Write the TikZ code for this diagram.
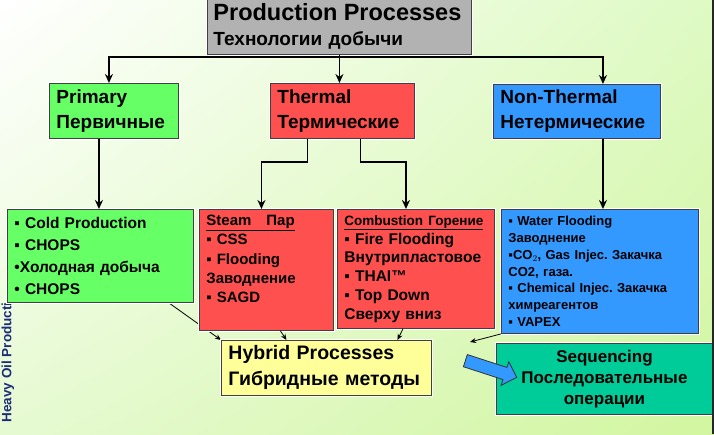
\documentclass[tikz,border=0pt]{standalone}
\usepackage{fontspec}
\setmainfont{Liberation Sans}
\usetikzlibrary{arrows.meta, positioning, shapes.arrows, backgrounds, shadings}
\definecolor{procgrey}{RGB}{178,178,178}
\definecolor{primgreen}{RGB}{102,255,102}
\definecolor{thermred}{RGB}{255,80,80}
\definecolor{nonthblue}{RGB}{51,153,255}
\definecolor{hybyellow}{RGB}{255,255,153}
\definecolor{seqteal}{RGB}{0,204,153}
\definecolor{bgtr}{RGB}{222,250,196}
\definecolor{bgbl}{RGB}{230,250,210}
\definecolor{bgbr}{RGB}{210,246,160}
\definecolor{sidenavy}{RGB}{30,45,120}
\newcommand{\fs}[2]{\fontsize{#1}{#2}\selectfont}
\frenchspacing

\begin{document}
\begin{tikzpicture}[>=Stealth, x=1pt, y=-1pt,
  box/.style={draw=black!75, line width=0.9pt, preaction={draw=white, line width=3.5pt},
    anchor=north west, inner xsep=7pt, inner ysep=2pt, align=left, font=\bfseries},
  flow/.style={-{Stealth[length=9pt, width=8pt]}, line width=1.6pt},
  feed/.style={-{Stealth[length=6pt, width=5pt]}, line width=0.8pt}]
  \begin{scope}[on background layer]
    \shade[upper left=white, upper right=bgtr, lower left=bgbl, lower right=bgbr] (0,0) rectangle (714,434);
  \end{scope}
  \useasboundingbox (0,0) rectangle (714,434);
  \begin{scope}
    \clip (0,302) rectangle (40,434);
    \node[rotate=90, anchor=west, text=sidenavy, font=\bfseries\fs{13.5}{16}] (heavy) at (8,426) {Heavy Oil Production};
  \end{scope}

  \node[box, fill=procgrey, inner xsep=6pt, text width=252, minimum height=56, font=\bfseries\fs{19}{25}] (proc) at (207,-2)
    {\mbox{\fs{23.5}{26}Production Processes}\\Технологии добычи};
  \node[box, fill=primgreen, text width=115, minimum height=55, font=\bfseries\fs{19}{25}] (primary) at (49,83)
    {Primary\\Первичные};
  \node[box, fill=thermred, text width=130, minimum height=55, font=\bfseries\fs{19}{25}] (thermal) at (270,83)
    {Thermal\\Термические};
  \node[box, fill=nonthblue, text width=153, minimum height=54, font=\bfseries\fs{19}{25}] (nonth) at (493,84)
    {Non-Thermal\\Нетермические};

  \node[box, fill=primgreen, text width=172, minimum height=93, font=\bfseries\fs{15.5}{21.7}] (cold) at (7,209)
    {▪ Cold Production\\▪ CHOPS\\•Холодная добыча\\• CHOPS};
  \node[box, fill=thermred, text width=120, minimum height=121, font=\bfseries\fs{15}{19.2}] (steam) at (199,209)
    {\underline{Steam\ \ \ Пар}\\▪ CSS\\▪ Flooding\\Заводнение\\▪ SAGD\rule[-22pt]{0pt}{22pt}};
  \node[box, fill=thermred, text width=143, minimum height=119, font=\bfseries\fs{15.5}{18.8}] (comb) at (337,209)
    {{\fs{13.5}{18.8}\underline{Combustion Горение}}\\▪ Fire Flooding\\Внутрипластовое\\▪ THAI™\\▪ Top Down\\Сверху вниз};
  \node[box, fill=nonthblue, text width=183, minimum height=124, font=\bfseries\fs{13}{16.8}] (water) at (501,209)
    {▪ Water Flooding\\Заводнение\\▪CO$_2$, Gas Injec. Закачка\\CO2, газа.\\▪ Chemical Injec. Закачка\\химреагентов\\▪ VAPEX};
  \node[box, fill=hybyellow, text width=196, minimum height=55, font=\bfseries\fs{19.5}{26}] (hybrid) at (221,340)
    {Hybrid Processes\\Гибридные методы};
  \node[box, fill=seqteal, text width=202, minimum height=71, align=center, font=\bfseries\fs{17}{21}] (seq) at (496,343)
    {Sequencing\\Последовательные\\операции};
  \node[single arrow, fill=nonthblue, draw=black!80, line width=0.8pt, inner xsep=0pt, inner ysep=6pt,
    minimum height=54, single arrow head extend=6pt, rotate=-18] (shift) at (488,368) {};

  \coordinate (bus) at (336,57);
  \coordinate (loose) at (470,342);
  \draw[flow] (bus) -| ([xshift=-5]primary.north);
  \draw[flow] (bus) -| ([xshift=26]nonth.north);
  \draw[flow] (proc.south) -- (proc.south |- thermal.north);
  \draw[flow] ([xshift=-15]primary.south) -- ([xshift=-15]primary.south |- cold.north);
  \draw[flow] ([xshift=-35]thermal.south) -- ++(0,23) -| ([xshift=-5]steam.north);
  \draw[flow] ([xshift=18]thermal.south) -- ++(0,23) -| ([xshift=-10]comb.north);
  \draw[flow] ([xshift=26]nonth.south) -- ([xshift=26]nonth.south |- water.north);

  \begin{scope}[on background layer]
    \draw[feed] ([xshift=-25]cold.south east) -- (hybrid.north west);
  \end{scope}
  \draw[feed] ([xshift=14]steam.south) -- ([xshift=-40]hybrid.north);
  \draw[feed] ([xshift=-13]comb.south) -- ([xshift=71]hybrid.north);
  \draw[feed] (water.south west) -- (loose);

  \draw[line width=2pt, black!85] (713,0) -- (713,434);
\end{tikzpicture}
\end{document}
